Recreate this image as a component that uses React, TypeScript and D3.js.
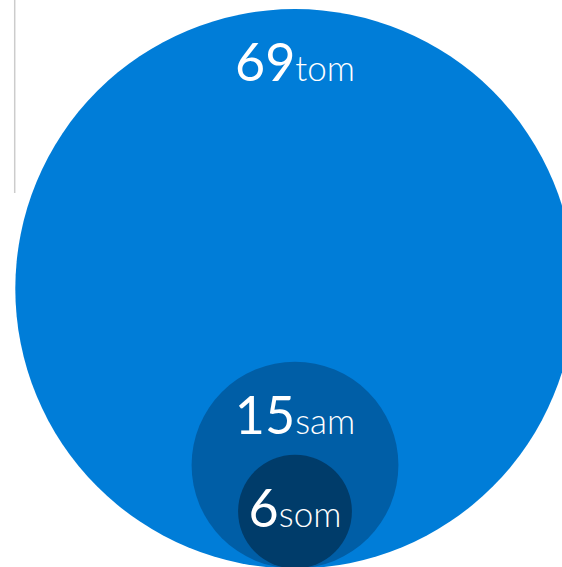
import React, { useRef, useEffect } from 'react';
import * as d3 from 'd3';

const names = ['tom', 'sam', 'som'];
const values = [69, 15, 6];
const colors = ['#007dd8', '#005ea6', '#003c6a'];

const width = 562;
const height = 567;

const App: React.FC = () => {
  const svgRef = useRef<SVGSVGElement>(null);

  useEffect(() => {
    if (!svgRef.current) return;

    d3.select(svgRef.current).selectAll('*').remove();

    const svg = d3.select(svgRef.current)
      .attr('width', width)
      .attr('height', height);

    // All bubbles share one baseline at the bottom
    const centerX = 295;
    const baseY = 568.5;

    const rScale = d3.scalePow()
      .exponent(0.652)
      .domain([0, d3.max(values) as number])
      .range([0, 279.7]);

    const data = values.map((v, i) => ({ name: names[i], value: v, color: colors[i] }));

    // Divider line on the left
    svg.append('line')
      .attr('x1', 14.7)
      .attr('x2', 14.7)
      .attr('y1', 0)
      .attr('y2', 193)
      .attr('stroke', '#cccccc')
      .attr('stroke-width', 1.5);

    const g = svg.append('g')
      .selectAll('g')
      .data(data)
      .enter()
      .append('g');

    g.append('circle')
      .attr('cx', centerX)
      .attr('cy', d => baseY - rScale(d.value))
      .attr('r', d => rScale(d.value))
      .attr('fill', d => d.color);

    const label = g.append('text')
      .attr('x', centerX)
      .attr('y', d => baseY - 2 * rScale(d.value) + 72)
      .attr('text-anchor', 'middle')
      .attr('fill', '#ffffff')
      .attr('font-family', 'Lato, sans-serif');

    label.append('tspan')
      .attr('font-size', '52px')
      .attr('font-weight', 400)
      .text(d => d.value.toString());

    label.append('tspan')
      .attr('font-size', '35px')
      .attr('font-weight', 300)
      .text(d => d.name);
  }, []);

  return (
    <div style={{ position: 'absolute', left: 0, top: 0, width, height, overflow: 'hidden' }}>
      <svg ref={svgRef} style={{ display: 'block' }} />
    </div>
  );
};

export default App;
